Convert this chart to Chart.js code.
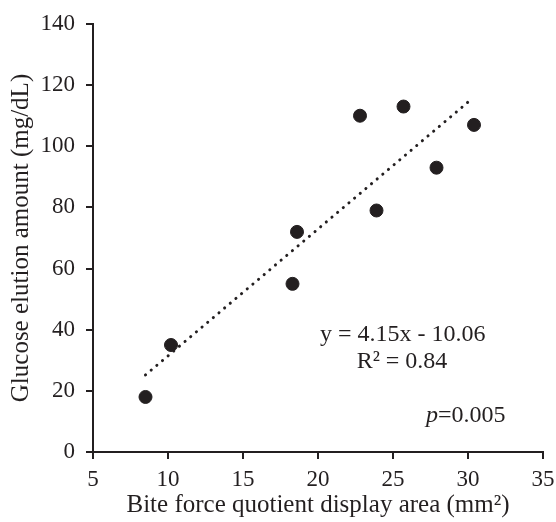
<!DOCTYPE html>
<html>
<head>
<meta charset="utf-8">
<script src="https://cdn.jsdelivr.net/npm/chart.js@4/dist/chart.umd.min.js"></script>
<style>
  html, body { margin: 0; padding: 0; background: #fff; }
  #wrap { width: 556px; height: 522px; }
</style>
</head>
<body>
<div id="wrap"><canvas id="myChart" width="556" height="522"></canvas></div>
<script>
// scatter: bite force quotient vs glucose elution
const biteArea = [8.5, 10.2, 18.3, 18.6, 22.8, 23.9, 25.7, 27.9, 30.4]
const glucose = [18, 35, 55, 72, 110, 79, 113, 93, 107]
const xTicks = [5, 10, 15, 20, 25, 30, 35]
const yTicks = [0, 20, 40, 60, 80, 100, 120, 140]
const slope = 4.15
const intercept = -10.06
const fitRange = [8.5, 30.2]

const ink = '#231f20'
const serif = "'Liberation Serif', 'DejaVu Serif', serif"

const points = biteArea.map((x, i) => ({x: x, y: glucose[i]}))
const fitLine = fitRange.map(x => ({x: x, y: slope * x + intercept}))

// text notes in data coordinates
const notes = [
    {x: 25.65, y: 38.3, parts: [['y = 4.15x - 10.06', '']], align: 'center'},
    {x: 25.6, y: 29.4, parts: [['R² = 0.84', '']], align: 'center'},
    {x: 32.5, y: 11.8, parts: [['p', 'italic '], ['=0.005', '']], align: 'right'}
]

const notesPlugin = {
    id: 'notes',
    afterDatasetsDraw(chart) {
        const c = chart.ctx
        const xs = chart.scales.x, ys = chart.scales.y
        c.save()
        c.fillStyle = ink
        c.textBaseline = 'middle'
        notes.forEach(n => {
            const widths = n.parts.map(p => { c.font = p[1] + '24px ' + serif; return c.measureText(p[0]).width })
            const total = widths.reduce((a, b) => a + b, 0)
            let px = xs.getPixelForValue(n.x)
            if (n.align === 'center') px -= total / 2
            else if (n.align === 'right') px -= total
            const py = ys.getPixelForValue(n.y)
            n.parts.forEach((p, i) => {
                c.font = p[1] + '24px ' + serif
                c.textAlign = 'left'
                c.fillText(p[0], px, py)
                px += widths[i]
            })
        })
        c.restore()
    }
}

const ctx = document.getElementById('myChart').getContext('2d')

let myChart = new Chart(ctx, {
    type: 'scatter',
    data: {
        datasets: [
            {
                label: 'samples',
                data: points,
                backgroundColor: ink,
                borderColor: ink,
                pointRadius: 6.5,
                pointHoverRadius: 6.5
            },
            {
                label: 'fit',
                type: 'line',
                data: fitLine,
                borderColor: ink,
                borderWidth: 3,
                borderDash: [0.1, 7.3],
                borderCapStyle: 'round',
                pointRadius: 0,
                fill: false
            }
        ]
    },
    plugins: [notesPlugin],
    options: {
        responsive: false,
        animation: false,
        events: [],
        layout: {padding: {top: 24, right: 13, bottom: 0, left: 0}},
        plugins: {legend: {display: false}, tooltip: {enabled: false}},
        scales: {
            x: {
                type: 'linear',
                min: 5, max: 35,
                afterBuildTicks: s => { s.ticks = xTicks.map(v => ({value: v})) },
                afterFit: s => { s.height = 70; s.paddingLeft = 0; s.paddingRight = 0 },
                border: {display: true, color: ink, width: 2},
                grid: {display: true, drawOnChartArea: false, drawTicks: true, tickLength: 7, color: ink, lineWidth: 2},
                ticks: {color: ink, font: {family: serif, size: 23}, padding: 7, maxRotation: 0},
                title: {display: true, text: 'Bite force quotient display area (mm²)', color: ink,
                    font: {family: serif, size: 25}, padding: {top: 0, bottom: 2}}
            },
            y: {
                type: 'linear',
                min: 0, max: 140,
                afterBuildTicks: s => { s.ticks = yTicks.map(v => ({value: v})) },
                afterFit: s => { s.width = 93; s.paddingTop = 0; s.paddingBottom = 0 },
                border: {display: true, color: ink, width: 2},
                grid: {display: true, drawOnChartArea: false, drawTicks: true, tickLength: 7, color: ink, lineWidth: 2},
                ticks: {color: ink, font: {family: serif, size: 23}, padding: 11},
                title: {display: true, text: 'Glucose elution amount (mg/dL)', color: ink,
                    font: {family: serif, size: 25}, padding: {top: 6, bottom: 0}}
            }
        }
    }
})
</script>
</body>
</html>
